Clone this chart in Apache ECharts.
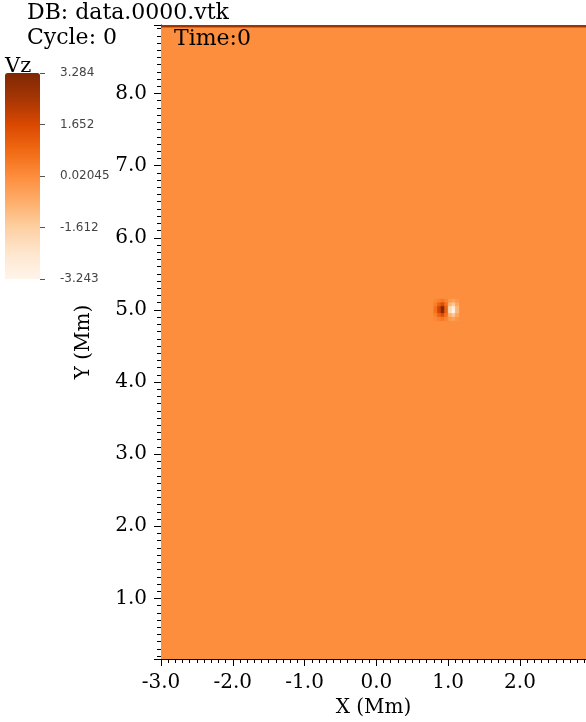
<!DOCTYPE html>
<html><head><meta charset="utf-8">
<script src="https://cdn.jsdelivr.net/npm/echarts@6/dist/echarts.min.js"></script>
<style>html,body{margin:0;padding:0;background:#fff}#c{width:586px;height:722px}</style>
</head><body><div id="c"></div>
<script>
// ---- data ----
const domainX = [-3.0, 2.92];
const domainY = [0.16, 8.92];
const backgroundVz = 0.0;
const topBoundaryY = [8.92, 8.95];
const topBoundaryVz = 2.6;
const blobCell = 0.05;
const blobX = [0.825, 0.875, 0.925, 0.975, 1.025, 1.075, 1.125];
const blobY = [5.125, 5.075, 5.025, 4.975, 4.925, 4.875];
const blobVz = [
  [0.1, 0.3, 0.5, 0.2, -0.3, -0.5, -0.2],
  [0.3, 1.0, 1.5, 0.6, -0.9, -1.4, -0.6],
  [0.6, 1.8, 3.28, 1.0, -1.9, -3.0, -1.0],
  [0.6, 1.8, 3.0, 1.0, -1.9, -3.24, -1.0],
  [0.3, 1.0, 1.5, 0.6, -0.9, -1.4, -0.6],
  [0.1, 0.3, 0.5, 0.2, -0.3, -0.5, -0.2]
];
const vzMin = -3.243, vzMax = 3.284;
const cbTickLabels = ['-3.243', '-1.612', '0.02045', '1.652', '3.284'];
const dbText = 'DB: data.0000.vtk';
const cycleText = 'Cycle: 0';
const timeText = 'Time:0';
const varName = 'Vz';
const orangesPalette = ['#fff5eb','#fee6ce','#fdd0a2','#fdae6b','#fd8d3c','#f16913','#d94801','#a63603','#7f2704'];

// ---- build cells [x0,x1,y0,y1,vz] ----
const cells = [];
cells.push([domainX[0], domainX[1], domainY[0], domainY[1], backgroundVz]);
cells.push([domainX[0], domainX[1], topBoundaryY[0], topBoundaryY[1], topBoundaryVz]);
blobY.forEach((y, r) => blobX.forEach((x, c) => {
  cells.push([x - blobCell / 2, x + blobCell / 2, y - blobCell / 2, y + blobCell / 2, blobVz[r][c]]);
}));

function renderItem(params, api) {
  const p0 = api.coord([api.value(0), api.value(3)]);
  const p1 = api.coord([api.value(1), api.value(2)]);
  const col = api.visual('color');
  return { type: 'rect',
    shape: { x: p0[0], y: p0[1], width: p1[0] - p0[0], height: p1[1] - p0[1] },
    style: { fill: col, stroke: col, lineWidth: 0.5 } };
}

const serif = 'DejaVu Serif';
const chart = echarts.init(document.getElementById('c'), null, { renderer: 'canvas' });
const fmt1 = v => Number(v).toFixed(1);
chart.setOption({
  animation: false,
  backgroundColor: '#fff',
  grid: [
    { left: 161, right: 0, top: 25, bottom: 63, outerBoundsMode: 'none', containLabel: false },
    { left: 5, top: 73, width: 35, height: 206, outerBoundsMode: 'none', containLabel: false }
  ],
  xAxis: [
    { type: 'value', gridIndex: 0, min: domainX[0], max: domainX[1], interval: 1,
      name: 'X (Mm)', nameLocation: 'middle', nameGap: 37,
      nameTextStyle: { fontFamily: serif, fontSize: 20, color: '#000' },
      axisLine: { show: true, onZero: false, lineStyle: { color: '#000', width: 1 } },
      axisTick: { show: true, length: 7, lineStyle: { color: '#000' } },
      minorTick: { show: true, splitNumber: 10, length: 4, lineStyle: { color: '#000' } },
      splitLine: { show: false }, minorSplitLine: { show: false },
      axisLabel: { formatter: fmt1, showMaxLabel: false, fontFamily: serif, fontSize: 20, color: '#000', margin: 14 } },
    { type: 'value', gridIndex: 1, show: false, min: 0, max: 1, axisLine: { onZero: false } }
  ],
  yAxis: [
    { type: 'value', gridIndex: 0, min: domainY[0], max: topBoundaryY[1], splitNumber: 9,
      name: 'Y (Mm)', nameLocation: 'middle', nameGap: 67, nameRotate: 90,
      nameTextStyle: { fontFamily: serif, fontSize: 20, color: '#000' },
      axisLine: { show: true, onZero: false, lineStyle: { color: '#000', width: 1 } },
      axisTick: { show: true, length: 7, lineStyle: { color: '#000' } },
      minorTick: { show: true, splitNumber: 10, length: 4, lineStyle: { color: '#000' } },
      splitLine: { show: false }, minorSplitLine: { show: false },
      axisLabel: { formatter: fmt1, showMinLabel: false, showMaxLabel: false, fontFamily: serif, fontSize: 20, color: '#000', margin: 14 } },
    { type: 'value', gridIndex: 1, position: 'right', min: 0, max: 4, interval: 1,
      axisLine: { show: false, onZero: false },
      axisTick: { show: true, length: 5, lineStyle: { color: '#555' } },
      splitLine: { show: false },
      axisLabel: { formatter: v => cbTickLabels[v], fontFamily: 'DejaVu Sans', fontSize: 12, color: '#444', margin: 20 } }
  ],
  visualMap: {
    type: 'continuous', seriesIndex: 0, dimension: 4, min: vzMin, max: vzMax,
    calculable: false, hoverLink: false, show: true, text: null,
    orient: 'vertical', left: 5, top: 73, padding: 0,
    itemWidth: 35, itemHeight: 206,
    inRange: { color: orangesPalette }
  },
  graphic: [
    { type: 'text', left: 27, top: 2, z: 100, style: { text: dbText, font: '22px "DejaVu Serif"', fill: '#000' } },
    { type: 'text', left: 27, top: 27, z: 100, style: { text: cycleText, font: '22px "DejaVu Serif"', fill: '#000' } },
    { type: 'text', left: 174, top: 28, z: 100, style: { text: timeText, font: '22px "DejaVu Serif"', fill: '#000' } },
    { type: 'text', left: 5, top: 56, z: 100, style: { text: varName, font: '21px "DejaVu Serif"', fill: '#000' } }
  ],
  series: [{
    type: 'custom', xAxisIndex: 0, yAxisIndex: 0, coordinateSystem: 'cartesian2d',
    renderItem: renderItem, clip: true, silent: true,
    encode: { x: [0, 1], y: [2, 3] },
    data: cells
  }]
});
</script></body></html>
